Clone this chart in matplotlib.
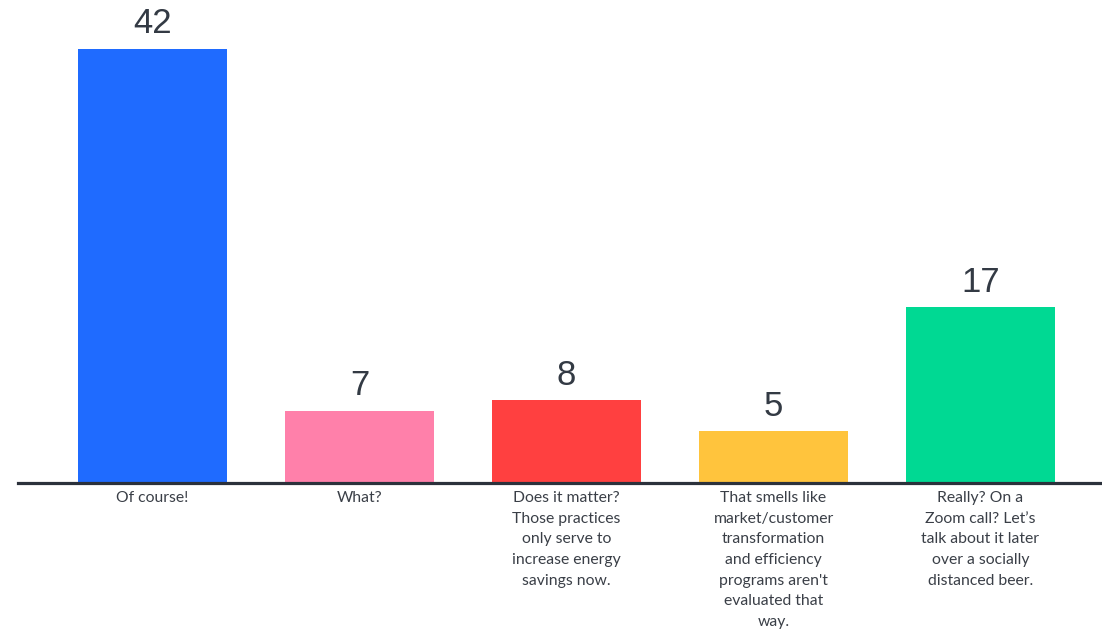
import matplotlib.pyplot as plt
import numpy as np

# Poll answers
answers = [
    "Of course!",
    "What?",
    "Does it matter?\nThose practices\nonly serve to\nincrease energy\nsavings now.",
    "That smells like\nmarket/customer\ntransformation\nand efficiency\nprograms aren't\nevaluated that\nway.",
    "Really? On a\nZoom call? Let\u2019s\ntalk about it later\nover a socially\ndistanced beer.",
]
votes = [42, 7, 8, 5, 17]
colors = ["#1f6bff", "#ff80aa", "#ff4040", "#ffc43d", "#00d993"]

fig = plt.figure(figsize=(11.02, 6.30), dpi=100)
ax = fig.add_axes([18 / 1102, 147 / 630, 1 - 18 / 1102, 483 / 630])

x = np.arange(len(votes))
bars = ax.bar(x, votes, width=0.72, color=colors)

ax.set_xlim(-0.65, 4.587)
ax.set_ylim(0, 46.75)

for xi, v in zip(x, votes):
    ax.text(xi, v + 0.85, str(v), ha="center", va="bottom",
            fontsize=25, color="#333a44", family="Liberation Sans")

for xi, lab in zip(x, answers):
    ax.text(xi, -0.8, lab, ha="center", va="top", fontsize=11.3,
            color="#3a3f47", family="Lato", linespacing=1.6)

for side in ["top", "right", "left"]:
    ax.spines[side].set_visible(False)
ax.spines["bottom"].set_color("#2b313b")
ax.spines["bottom"].set_linewidth(2.3)
ax.set_xticks([])
ax.set_yticks([])

fig.savefig("out.png", dpi=100)
